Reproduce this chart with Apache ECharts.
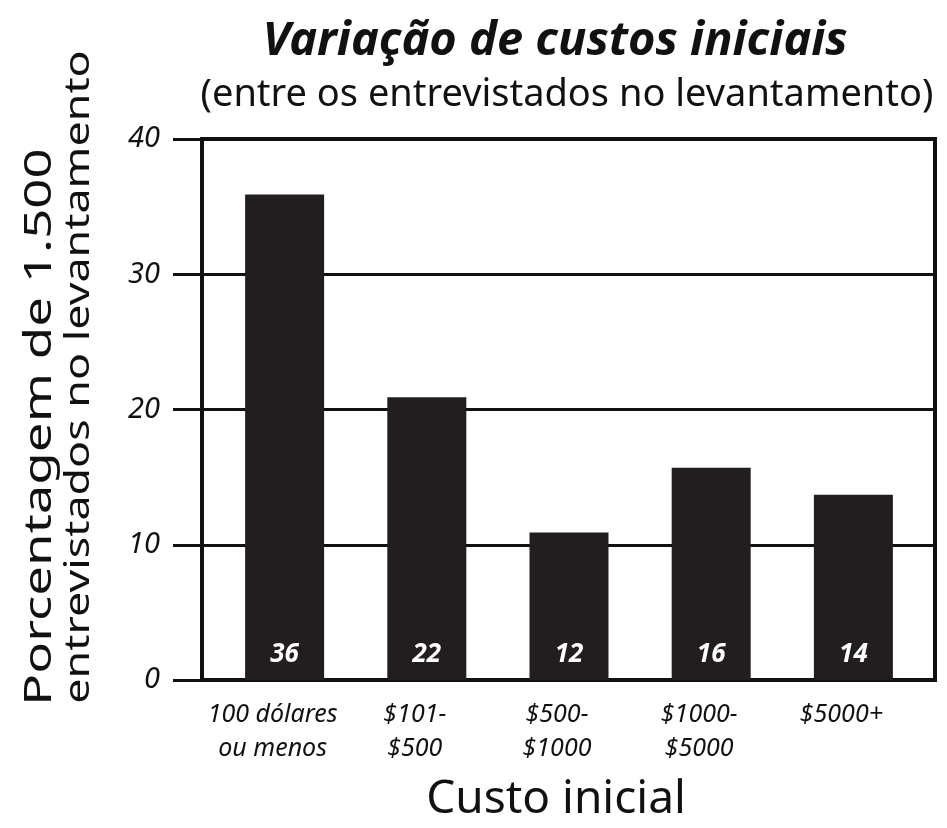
<!DOCTYPE html>
<html>
<head>
<meta charset="utf-8">
<script src="https://cdn.jsdelivr.net/npm/echarts@6/dist/echarts.min.js"></script>
<style>html,body{margin:0;padding:0;background:#fff}#c{width:947px;height:828px}</style>
</head>
<body>
<div id="c"></div>
<script>
var categories = ['100 dólares\nou menos', '$101-\n$500', '$500-\n$1000', '$1000-\n$5000', '$5000+'];
var barHeights = [35.9, 20.9, 10.9, 15.7, 13.7];
var printedValues = ['36', '22', '12', '16', '14'];
var yTicks = [0, 10, 20, 30, 40];
var titleText = 'Variação de custos iniciais';
var subtitleText = '(entre os entrevistados no levantamento)';
var yNameLines = ['Porcentagem de 1.500', 'entrevistados no levantamento'];
var xName = 'Custo inicial';

var FONT = 'Noto Sans';
var chart = echarts.init(document.getElementById('c'), null, {renderer: 'canvas'});
var positions = categories.map(function (c, i) { return i; });
var seriesData = barHeights.map(function (v, i) { return [positions[i], v]; });

chart.setOption({
  animation: false,
  backgroundColor: '#fff',
  grid: {left: 202, right: 12, top: 139, bottom: 148, show: true, borderColor: '#111', borderWidth: 4, backgroundColor: 'transparent'},
  xAxis: {
    type: 'value', min: -0.581, max: 4.574,
    axisLine: {show: true, onZero: false, lineStyle: {color: '#111', width: 4}},
    axisTick: {show: false},
    splitLine: {show: false},
    axisLabel: {
      customValues: positions,
      formatter: function (v) { return categories[Math.round(v)]; },
      fontFamily: FONT, fontStyle: 'italic', fontSize: 25, color: '#111',
      lineHeight: 34, margin: 18, padding: [0, 24, 0, 0]
    }
  },
  yAxis: {
    type: 'value', min: 0, max: 40, interval: 10,
    axisLine: {show: true, onZero: false, lineStyle: {color: '#111', width: 4}},
    axisTick: {show: true, inside: false, length: 29, lineStyle: {color: '#111', width: 3}},
    splitLine: {show: true, lineStyle: {color: '#111', width: 3}},
    axisLabel: {
      fontFamily: FONT, fontStyle: 'italic', fontSize: 29, color: '#111', margin: 42
    }
  },
  series: [{
    type: 'bar',
    data: seriesData,
    barWidth: 79,
    itemStyle: {color: '#221e1f'},
    label: {
      show: true, position: 'insideBottom', distance: 12,
      formatter: function (p) { return printedValues[p.dataIndex]; },
      color: '#fff', fontFamily: FONT, fontStyle: 'italic', fontWeight: 'bold', fontSize: 26
    }
  }],
  graphic: [
    {type: 'text', x: 555, y: 42, style: {text: titleText, align: 'center', verticalAlign: 'middle', fontFamily: FONT, fontStyle: 'italic', fontWeight: 'bold', fontSize: 47, fill: '#111'}},
    {type: 'text', x: 567, y: 95, style: {text: subtitleText, align: 'center', verticalAlign: 'middle', fontFamily: FONT, fontSize: 38, fill: '#111'}},
    {type: 'text', x: 40, y: 427, rotation: Math.PI / 2, scaleX: 1.39, style: {text: yNameLines[0], align: 'center', verticalAlign: 'middle', fontFamily: FONT, fontSize: 38, fill: '#111'}},
    {type: 'text', x: 79, y: 377, rotation: Math.PI / 2, scaleX: 1.28, style: {text: yNameLines[1], align: 'center', verticalAlign: 'middle', fontFamily: FONT, fontSize: 35, fill: '#111'}},
    {type: 'text', x: 556, y: 800, style: {text: xName, align: 'center', verticalAlign: 'middle', fontFamily: FONT, fontSize: 46, fill: '#111'}}
  ]
});
</script>
</body>
</html>
